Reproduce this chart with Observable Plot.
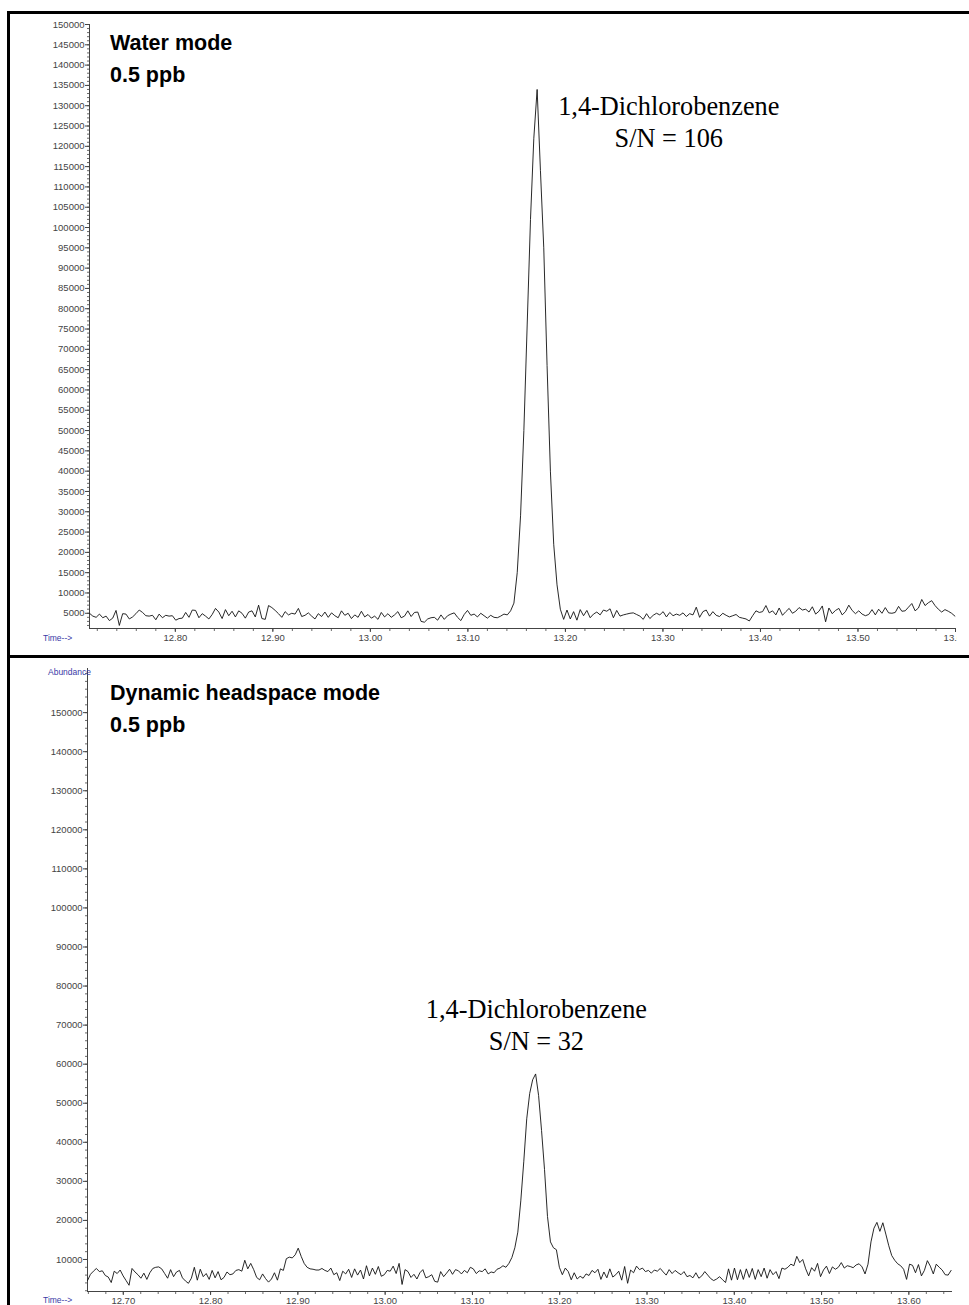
<!DOCTYPE html>
<html><head><meta charset="utf-8">
<script src="https://cdn.jsdelivr.net/npm/d3@7"></script>
<script src="https://cdn.jsdelivr.net/npm/@observablehq/plot@0.6"></script>
<style>
body{margin:0;background:#fff;}
#page{position:relative;width:969px;height:1305px;overflow:hidden;background:#fff;}
#page svg{max-width:none !important;height:auto;}
.panel{position:absolute;left:0;overflow:hidden;}
.bar{position:absolute;background:#000;}
.title{position:absolute;left:110px;font:bold 21.5px "Liberation Sans",Arial,sans-serif;line-height:32px;color:#000;white-space:pre;}
.small{position:absolute;font:8.5px "Liberation Sans",Arial,sans-serif;color:#3a3aa6;line-height:10px;white-space:pre;}
</style></head><body>
<div id="page">
  <div class="panel" id="topPanel" style="top:0;width:957px;height:655px;"></div>
  <div class="panel" id="bottomPanel" style="top:658px;width:969px;height:647px;"></div>
  <div class="title" style="top:26.5px;">Water mode
0.5 ppb</div>
  <div class="title" style="top:676.5px;">Dynamic headspace mode
0.5 ppb</div>
  <div class="small" style="left:43px;top:633px;">Time--&gt;</div>
  <div class="small" style="left:48px;top:667px;">Abundance</div>
  <div class="small" style="left:43px;top:1295px;">Time--&gt;</div>
  <div class="bar" style="left:7px;top:11px;width:962px;height:3px;"></div>
  <div class="bar" style="left:7px;top:11px;width:3px;height:1294px;"></div>
  <div class="bar" style="left:7px;top:655px;width:962px;height:3px;"></div>
</div>
<script>
// ---------- data (abundance values in thousands of counts) ----------
const scanInterval = 0.0034; // min between scans
const waterScanStart = 12.712;
const waterAbundance = [
  5.0,4.3,4.0,4.8,3.9,4.3,3.2,3.8,5.7,2.0,4.9,4.8,3.6,4.1,4.9,5.8,5.2,4.4,4.3,4.5,3.4,4.8,3.9,4.5,4.3,4.4,
  3.3,3.7,3.8,5.2,4.0,5.8,5.7,3.9,4.9,4.3,3.6,4.7,6.2,5.3,3.7,5.9,4.4,5.5,4.1,5.6,5.0,3.8,5.3,5.6,4.1,7.0,3.7,3.5,6.9,6.4,
  5.7,4.9,4.0,5.4,4.6,5.0,4.8,6.2,4.2,4.5,5.1,4.3,3.6,4.9,4.2,5.3,4.0,5.1,4.4,3.9,5.6,4.5,5.0,3.7,4.6,4.0,5.5,4.1,4.7,
  3.8,4.3,3.5,5.2,4.1,4.9,4.0,4.6,5.4,3.9,4.3,5.6,4.2,5.2,5.3,3.0,2.8,3.6,3.9,4.0,3.3,4.6,3.5,4.4,4.8,5.1,4.0,3.2,4.7,5.7,
  4.5,4.8,4.1,5.0,4.4,3.8,4.5,4.0,3.9,4.3,4.8,4.6,5.6,
  7.5,15,29,50,76,102,122,134,114,95,66,40,22,12,6.0,3.5,
  5.8,3.6,5.4,3.3,5.9,4.4,5.7,3.9,4.8,5.3,4.6,5.8,5.5,6.1,3.9,5.7,4.3,4.6,4.8,5.0,5.1,4.7,4.3,3.5,4.9,3.7,4.5,5.0,4.6,5.4,
  4.1,5.2,4.4,4.8,4.5,5.1,4.2,4.9,4.6,6.5,4.0,5.4,5.8,4.3,5.4,4.5,4.2,5.0,4.5,4.1,4.4,4.7,4.0,3.8,3.6,3.1,4.4,5.6,5.2,5.4,
  6.9,5.1,5.6,4.6,6.3,4.5,5.4,6.2,5.0,5.5,6.4,5.8,6.0,5.3,6.6,4.8,5.5,6.8,2.9,6.3,4.9,5.7,6.2,4.6,5.4,7.0,5.7,4.9,5.6,4.8,
  4.4,4.7,5.9,4.6,6.0,5.0,6.4,5.1,5.0,5.2,6.7,5.5,5.6,6.5,7.4,5.6,6.3,8.4,6.9,7.6,8.1,6.9,6.0,5.3,5.9,5.5,5.0,4.3
];
const headspaceScanStart = 12.659;
const headspaceAbundance = [
  4.6,6.2,7.0,7.7,6.9,7.1,5.9,5.5,4.1,7.0,6.4,7.3,5.8,4.6,3.4,7.7,6.8,6.1,5.2,6.5,4.9,6.6,7.7,8.0,8.1,7.6,6.4,5.2,7.4,5.6,
  6.8,7.2,5.3,4.5,3.9,5.2,8.0,4.7,7.5,5.6,6.4,4.9,7.2,5.3,6.9,4.8,5.4,6.8,6.1,6.3,7.2,7.4,7.0,9.8,7.6,9.0,7.4,5.4,4.8,6.3,
  5.1,4.2,5.0,6.6,4.7,7.6,7.2,10.2,10.6,10.4,11.2,12.9,10.8,9.0,8.0,7.6,7.5,7.3,7.3,7.7,7.2,6.9,7.8,6.1,6.6,4.6,7.0,6.3,7.5,5.4,
  7.6,6.0,7.3,5.0,8.4,5.8,7.8,6.2,8.2,5.7,6.1,7.2,7.0,8.3,6.4,9.0,3.6,7.4,6.9,5.4,6.2,5.0,6.6,7.4,5.3,5.6,6.1,4.4,4.2,6.9,
  5.6,6.5,7.5,6.2,7.4,7.1,6.3,7.2,6.6,8.0,7.6,6.4,7.1,6.9,7.6,6.3,6.8,6.6,7.5,7.8,8.4,8.0,
  9.0,10.5,13.0,17.0,25.0,35.0,46.0,52.5,56.0,57.5,52.0,43.0,33.0,21.0,14.5,13.0,12.5,8.0,
  6.1,7.8,6.9,4.8,6.6,5.0,5.7,5.2,6.3,5.9,7.2,6.6,7.5,4.9,6.8,5.3,7.6,5.5,6.1,7.0,4.7,8.2,3.9,7.3,6.6,8.3,7.4,7.8,6.9,7.2,
  6.5,7.3,7.0,7.7,6.8,6.0,7.4,6.4,7.2,6.6,6.1,6.9,5.6,5.9,5.3,6.6,5.2,5.8,6.9,6.0,5.1,4.6,5.0,5.6,4.8,4.1,7.6,4.7,7.8,4.8,
  7.4,4.9,7.6,5.4,7.7,4.9,7.4,5.6,7.8,5.2,7.4,6.1,6.9,5.1,7.8,7.5,8.0,8.8,8.4,10.8,9.2,10.0,7.6,5.8,7.9,7.0,9.0,5.6,7.3,8.3,
  6.4,8.1,7.5,8.0,9.2,7.8,8.4,8.2,7.9,8.6,8.9,8.1,6.3,
  8.8,14.5,18.0,19.5,17.2,19.4,16.5,13.5,11.0,9.8,8.9,8.4,7.5,4.9,8.8,8.5,6.6,8.7,5.8,7.2,9.7,8.3,6.3,8.8,8.0,7.3,6.1,6.0,7.2
];

// axis domains and tick labels
const waterTimeDomain = [12.712, 13.600];
const waterAbundanceDomain = [1250, 150000];
const waterTimeTicks = [12.8, 12.9, 13.0, 13.1, 13.2, 13.3, 13.4, 13.5, 13.6];
const waterAbundanceTicks = [5000,10000,15000,20000,25000,30000,35000,40000,45000,50000,55000,60000,65000,70000,75000,
  80000,85000,90000,95000,100000,105000,110000,115000,120000,125000,130000,135000,140000,145000,150000];
const headspaceTimeDomain = [12.659, 13.650];
const headspaceAbundanceDomain = [1800, 161300];
const headspaceTimeTicks = [12.7, 12.8, 12.9, 13.0, 13.1, 13.2, 13.3, 13.4, 13.5, 13.6];
const headspaceAbundanceTicks = [10000,20000,30000,40000,50000,60000,70000,80000,90000,100000,110000,120000,130000,140000,150000];

// peak annotations (data coordinates)
const waterLabels = [
  {time: 13.306, abundance: 129900, text: "1,4-Dichlorobenzene"},
  {time: 13.306, abundance: 122000, text: "S/N = 106"}
];
const headspaceLabels = [
  {time: 13.1733, abundance: 74000, text: "1,4-Dichlorobenzene"},
  {time: 13.1733, abundance: 65800, text: "S/N = 32"}
];

// ---------- build tables ----------
const waterData = waterAbundance.map((v, i) => ({time: waterScanStart + i * scanInterval, abundance: v * 1000}));
const headspaceData = headspaceAbundance.map((v, i) => ({time: headspaceScanStart + i * scanInterval, abundance: v * 1000}));

const fmtY = d3.format("d");
const fmtX = d3.format(".2f");
const blank = () => "";
const axisColor = "#444";

function minorTicks(lo, hi, step) {
  const out = [];
  const n = Math.round((hi - lo) / step);
  for (let k = 0; k <= n; k++) out.push(+(lo + k * step).toFixed(6));
  return out;
}

function chromatogram({data, xDomain, yDomain, xTicks, yTicks, xMinor, yMinor, labels, width, height, margins}) {
  return Plot.plot({
    width, height,
    marginLeft: margins[0], marginRight: margins[1], marginTop: margins[2], marginBottom: margins[3],
    x: {domain: xDomain, axis: null},
    y: {domain: yDomain, axis: null},
    style: {fontFamily: '"Liberation Sans", Arial, sans-serif', fontSize: "9.5px", color: axisColor, background: "transparent", overflow: "visible", maxWidth: "none"},
    marks: [
      Plot.axisY({ticks: yMinor, anchor: "left", tickSize: 2, tickFormat: blank, label: null, strokeWidth: 0.8}),
      Plot.axisY({ticks: yTicks, anchor: "left", tickSize: 4, tickPadding: 1, tickFormat: fmtY, label: null, fontSize: 9.5}),
      Plot.axisX({ticks: xMinor, anchor: "bottom", tickSize: 3, tickFormat: blank, label: null, strokeWidth: 0.8}),
      Plot.axisX({ticks: xTicks, anchor: "bottom", tickSize: 4, tickPadding: 2, tickFormat: fmtX, label: null, fontSize: 9.5}),
      Plot.ruleX([xDomain[0]], {stroke: axisColor}),
      Plot.ruleY([yDomain[0]], {stroke: axisColor}),
      Plot.lineY(data, {x: "time", y: "abundance", stroke: "#111", strokeWidth: 0.9}),
      Plot.text(labels, {x: "time", y: "abundance", text: "text", fontFamily: '"Liberation Serif", "Times New Roman", serif', fontSize: 26.3, fill: "#000"})
    ]
  });
}

const topChart = chromatogram({
  data: waterData, xDomain: waterTimeDomain, yDomain: waterAbundanceDomain,
  xTicks: waterTimeTicks, yTicks: waterAbundanceTicks,
  xMinor: minorTicks(12.72, 13.60, 0.02), yMinor: minorTicks(2000, 150000, 1000),
  labels: waterLabels, width: 969, height: 655, margins: [89, 14, 24, 27]
});
document.getElementById("topPanel").appendChild(topChart);

const bottomChart = chromatogram({
  data: headspaceData, xDomain: headspaceTimeDomain, yDomain: headspaceAbundanceDomain,
  xTicks: headspaceTimeTicks, yTicks: headspaceAbundanceTicks,
  xMinor: minorTicks(12.66, 13.64, 0.02), yMinor: minorTicks(2000, 160000, 2000),
  labels: headspaceLabels, width: 969, height: 647, margins: [87, 17, 10, 14]
});
document.getElementById("bottomPanel").appendChild(bottomChart);
</script>
</body></html>
